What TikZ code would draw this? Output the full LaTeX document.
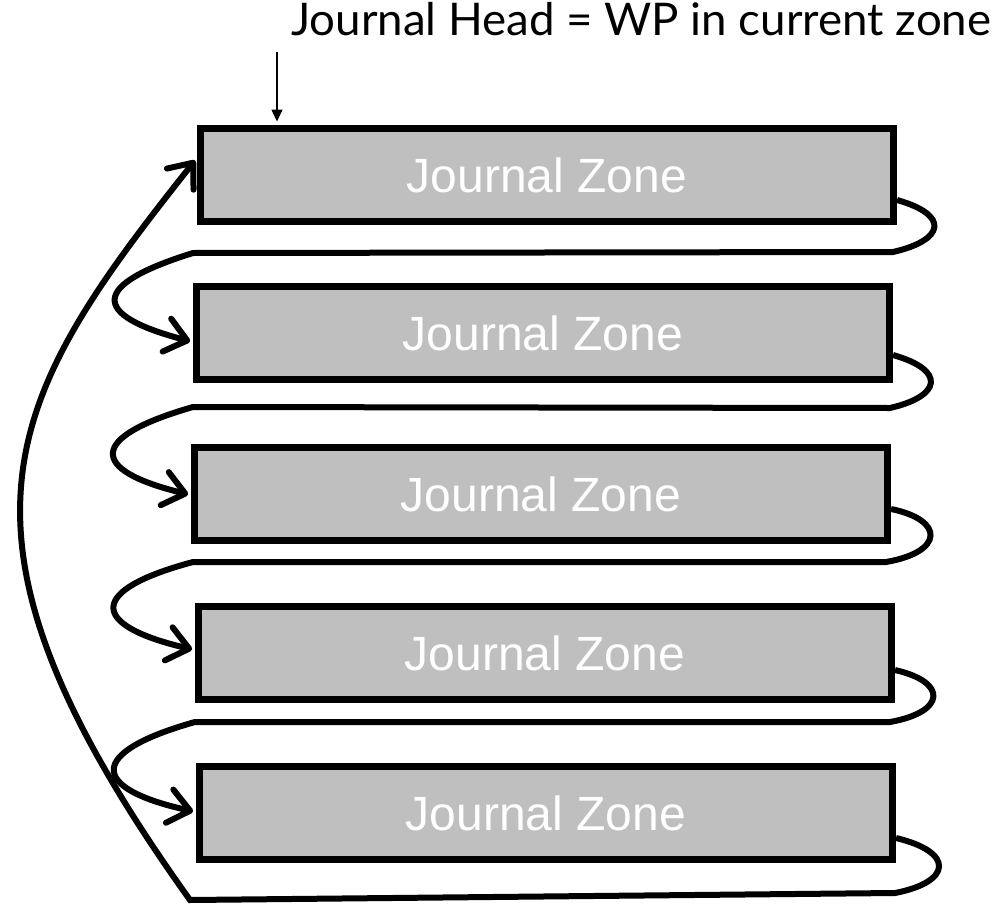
\documentclass[tikz,border=0pt]{standalone}
\usepackage{fontspec}
\usepackage{graphicx}
\setmainfont{Liberation Sans}
\newfontfamily\gillfont{Lato}
\usetikzlibrary{arrows.meta,calc}
\definecolor{boxgray}{HTML}{BFBFBF}
\begin{document}
\begin{tikzpicture}[x=1pt,y=-1pt,
  zone/.style={draw=black, line width=7pt, fill=boxgray, minimum width=693pt,
    minimum height=93pt, inner sep=0pt, text=white, font=\fontsize{48}{58}\selectfont},
  conn/.style={line width=6pt, shorten >=3pt, -{Straight Barb[length=21pt,width=34pt,round]}},
  headarrow/.style={line width=1.6pt, -{Triangle[length=12pt,width=11pt]}}
]
\useasboundingbox (0,0) rectangle (1001,907);

% boxes
\node[zone] (b1) at (547,175) {Journal Zone};
\node[zone] (b2) at (543,333) {Journal Zone};
\node[zone] (b3) at (541,494) {Journal Zone};
\node[zone] (b4) at (545,653) {Journal Zone};
\node[zone] (b5) at (546,813) {Journal Zone};

% label
\node[anchor=base west, inner sep=0pt, font=\gillfont\fontsize{45}{52}\selectfont] (lbl) at (291,36)
  {\resizebox{700pt}{\height}{Journal Head = WP in current zone}};
\coordinate (hs) at (277,52);
\draw[headarrow] (hs) -- ($(hs |- b1.north)+(0,-3.5)$);

% loops
\draw[conn] ([yshift=-25pt]b1.east) .. controls (950,215) and (945,240) .. (893,252)
  -- (193,253) .. controls (90,285) and (90,315) .. ([yshift=-9pt]b2.west);
\draw[conn] ([yshift=-22pt]b2.east) .. controls (946,370) and (942,396) .. (890,408)
  -- (193,407) .. controls (88,437) and (88,470) .. ([yshift=-1pt]b3.west);
\draw[conn] ([yshift=-15pt]b3.east) .. controls (945,520) and (944,552) .. (886,562)
  -- (193,562) .. controls (88,590) and (88,625) .. ([yshift=3pt]b4.west);
\draw[conn] ([yshift=-17pt]b4.east) .. controls (948,682) and (946,712) .. (890,722)
  -- (195,722) .. controls (88,752) and (88,788) .. ([yshift=1pt]b5.west);
\draw[conn] ([yshift=-25pt]b5.east) .. controls (955,852) and (952,882) .. (895,893)
  -- (190,900) .. controls (-75,530) and (5,400) .. ([yshift=17pt]b1.west);
\end{tikzpicture}
\end{document}
